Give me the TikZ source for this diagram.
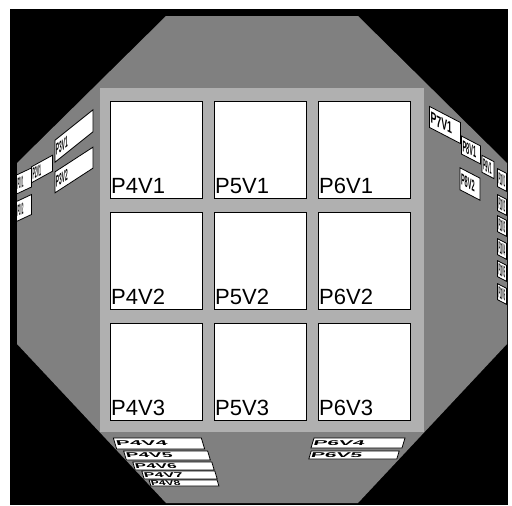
\documentclass[tikz,border=0pt]{standalone}
\usepackage{fontspec}
\setmainfont{Liberation Sans}
\usepackage{graphicx}
\usetikzlibrary{positioning}
\definecolor{roomGray}{HTML}{808080}
\definecolor{backWall}{HTML}{B0B0B0}

\tikzset{
  view/.style={draw=black, line width=1.2pt, fill=white, inner sep=0pt,
    minimum width=92pt, minimum height=97pt, anchor=north west},
  walltag/.style={draw=black, line width=0.8pt, fill=white, inner xsep=1pt, inner ysep=0pt,
    yslant=#1, align=left, font=\fontsize{16}{16}\selectfont\bfseries},
  floortag/.style={draw=black, line width=0.8pt, fill=white, inner xsep=1pt, inner ysep=0pt,
    xslant=#1, align=left, font=\fontsize{10}{10}\selectfont\bfseries}
}

\begin{document}
\begin{tikzpicture}[x=1pt, y=-1pt]
\useasboundingbox (0,0) rectangle (512,506);
% room
\fill[black] (10,9) rectangle (508,505);
\fill[roomGray] (166,16) -- (358,16) -- (507,163) -- (507,344) -- (358,503)
  -- (166,503) -- (17,344) -- (17,163) -- cycle;
\fill[backWall] (100,88) rectangle (424,432);

% back wall views
\foreach \p [count=\i from 0] in {4,5,6}
  \foreach \v [count=\j from 0] in {1,2,3}
    \node[view, label={[anchor=base west, inner sep=0pt, xshift=1pt, yshift=6pt,
      font=\fontsize{22}{22}\selectfont]south west:P\p V\v}] (P\p V\v) at (110+104*\i, 101+111*\j) {};

% left wall
\foreach \n/\cx/\cy/\w/\h/\k/\s in {P3V1/74/136/36/22/0.8/0.3, P3V2/74/170/36/21/0.65/0.3,
    P2V1/42/169/19/16/0.55/0.22, P1V1/24/181/13/19/0.47/0.15, P1V2/24/208/13/20/0.47/0.15}
  \node[walltag=\k, text width=\w pt, minimum height=\h pt] (\n) at (\cx,\cy) {\scalebox{\s}[1]{\n}};

% right wall
\foreach \n/\cx/\cy/\w/\h/\s in {P7V1/445/125/29/21/0.55, P8V1/471/150/17/18/0.35,
    P9V1/488/167/10/17/0.22, P10V1/502/180/7/18/0.14, P8V2/470/184/18/22/0.35,
    P10V2/502/205/7/16/0.14, P10V3/502/226/7/16/0.14, P10V4/502/249/7/16/0.14,
    P10V5/502/271/7/16/0.14, P10V6/502/294/7/16/0.14}
  \node[walltag=-0.52, text width=\w pt, minimum height=\h pt] (\n) at (\cx,\cy) {\scalebox{\s}[1]{\n}};

% floor
\foreach \v/\cx/\cy/\w/\h/\s in {4/159/443.5/86/11/2.1, 5/167/455.5/82/9/1.9,
    6/173.5/466/77/8/1.7, 7/179.5/475/71/8/1.6, 8/184/483/66/6/1.2}
  \node[floortag=-0.3, text width=\w pt, minimum height=\h pt] (P4V\v) at (\cx,\cy) {\scalebox{\s}[0.7]{P4V\v}};
\foreach \v/\cx/\cy/\w/\h in {4/358/443/89/10, 5/354/455/86/8}
  \node[floortag=0.3, text width=\w pt, minimum height=\h pt] (P6V\v) at (\cx,\cy) {\scalebox{2.1}[0.7]{P6V\v}};
\end{tikzpicture}
\end{document}
